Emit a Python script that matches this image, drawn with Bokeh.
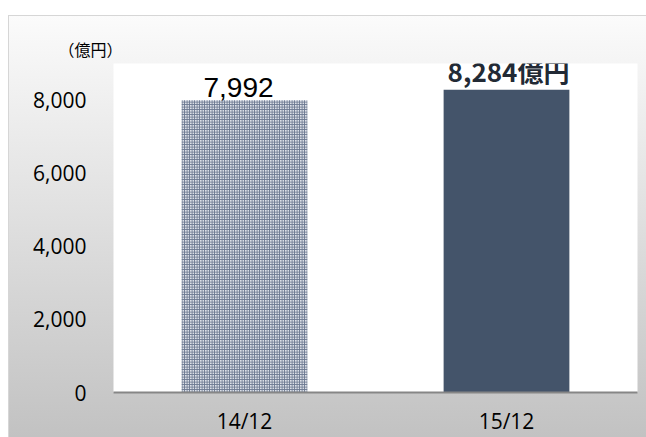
from bokeh.plotting import figure
from bokeh.models import ColumnDataSource, LabelSet, NumeralTickFormatter, FixedTicker
from bokeh.embed import file_html
from bokeh.resources import INLINE

categories = ["14/12", "15/12"]
values = [7992, 8284]
labels = ["7,992", "8,284億円"]
y_ticks = [0, 2000, 4000, 6000, 8000]
unit_label = "（億円）"

src = ColumnDataSource(dict(
    cat=categories, val=values, lab=labels,
    fill=["#dde1e8", "#44546a"],
    hatch=["+", " "],
    font=["Liberation Sans", "Noto Sans CJK JP"],
    fsize=["28px", "26px"],
    fstyle=["normal", "bold"],
    tcolor=["#000000", "#222a35"],
    xoff=[-6, 2],
    yoff=[3, 1],
))

p = figure(x_range=categories, y_range=(0, 9000), width=646, height=437,
           output_backend="svg", toolbar_location=None,
           min_border_left=113, min_border_right=9, min_border_top=63, min_border_bottom=43)
p.border_fill_alpha = 0
p.background_fill_color = "white"
p.outline_line_color = None
p.styles = {
    "background": "linear-gradient(white,white) 0 0 / 100% 15px no-repeat, "
                  "linear-gradient(white,white) 0 0 / 8px 100% no-repeat, "
                  "linear-gradient(#d6d6d6,#d6d6d6) 8px 15px / 100% 1px no-repeat, "
                  "linear-gradient(#d6d6d6,#d6d6d6) 8px 15px / 1px 100% no-repeat, "
                  "linear-gradient(to bottom, #fbfbfb 15px, #c2c2c2 100%)"
}

p.title.text = unit_label
p.title.align = "left"
p.title.offset = -55
p.title.standoff = 6
p.title.text_font = "Noto Sans CJK JP"
p.title.text_font_size = "16px"
p.title.text_font_style = "normal"
p.title.text_color = "#000000"

p.vbar(x="cat", top="val", width=0.48, source=src, fill_color="fill", line_color=None,
       hatch_pattern="hatch", hatch_color="#6b7890", hatch_scale=2.5, hatch_weight=1.2)

p.add_layout(LabelSet(x="cat", y="val", text="lab", source=src, text_align="center",
                      text_baseline="bottom", text_font="font", text_font_size="fsize",
                      text_font_style="fstyle", text_color="tcolor",
                      x_offset="xoff", y_offset="yoff"))

p.xgrid.visible = False
p.ygrid.visible = False

p.yaxis.ticker = FixedTicker(ticks=y_ticks)
p.yaxis.formatter = NumeralTickFormatter(format="0,0")
p.yaxis.axis_line_color = None
p.yaxis.major_tick_line_color = None
p.yaxis.minor_tick_line_color = None
p.yaxis.major_label_standoff = 21
p.yaxis.major_label_text_font = "Open Sans"
p.yaxis.major_label_text_font_size = "21px"
p.yaxis.major_label_text_color = "#000000"

p.xaxis.axis_line_color = "#868686"
p.xaxis.axis_line_width = 2
p.xaxis.major_tick_line_color = None
p.xaxis.minor_tick_line_color = None
p.xaxis.major_tick_out = 0
p.xaxis.major_tick_in = 0
p.xaxis.major_label_standoff = 14
p.xaxis.major_label_text_font = "Open Sans"
p.xaxis.major_label_text_font_size = "21px"
p.xaxis.major_label_text_color = "#000000"

open("out.html", "w").write(file_html(p, INLINE))
